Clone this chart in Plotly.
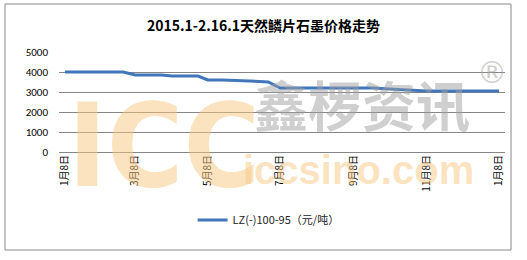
import plotly.graph_objects as go

dates = ["2015-01-08", "2015-01-22", "2015-02-05", "2015-02-26", "2015-03-08",
         "2015-03-30", "2015-04-08", "2015-04-30", "2015-05-08", "2015-05-20",
         "2015-06-12", "2015-06-28", "2015-07-08", "2015-08-08", "2015-09-08",
         "2015-09-25", "2015-10-08", "2015-11-08", "2015-12-08", "2016-01-08"]
prices = [4000, 4000, 4000, 4000, 3850,
          3850, 3800, 3800, 3600, 3600,
          3550, 3500, 3200, 3200, 3200,
          3200, 3150, 3050, 3050, 3050]
series_name = "LZ(-)100-95（元/吨）"
title_text = "2015.1-2.16.1天然鳞片石墨价格走势"
y_ticks = [0, 1000, 2000, 3000, 4000, 5000]

W, H = 527, 260
ml, mr, mt, mb = 59, 22, 52, 108

fig = go.Figure()
fig.add_trace(go.Scatter(x=dates, y=prices, mode="lines", name=series_name,
                         line=dict(color="#4177BA", width=3)))

font_main = "Calibri, Carlito, 'Noto Sans CJK SC', sans-serif"

def px2x(px):
    return (px - ml) / (W - ml - mr)

def py2y(py):
    return 1 - (py - mt) / (H - mt - mb)

orange = "rgba(247,200,130,0.5)"
grey = "rgba(160,160,160,0.5)"
annotations = [
    dict(text="<b>ICC</b>", x=px2x(164), y=py2y(145), xref="paper", yref="paper",
         showarrow=False, font=dict(size=116, color=orange,
                                    family="'Liberation Sans Narrow', 'DejaVu Sans Condensed', sans-serif"),
         xanchor="center", yanchor="middle"),
    dict(text="<b>鑫椤资讯</b>", x=px2x(362), y=py2y(103), xref="paper", yref="paper",
         showarrow=False, font=dict(size=54, color=grey,
                                    family="'Noto Sans CJK SC', sans-serif"), xanchor="center", yanchor="middle"),
    dict(text="®", x=px2x(492), y=py2y(72), xref="paper", yref="paper",
         showarrow=False, font=dict(size=30, color=grey,
                                    family="'DejaVu Sans', sans-serif"), xanchor="center", yanchor="middle"),
    dict(text="<b>iccsino.com</b>", x=px2x(358), y=py2y(170), xref="paper", yref="paper",
         showarrow=False, font=dict(size=40, color=orange,
                                    family="'Liberation Sans', sans-serif"), xanchor="center", yanchor="middle"),
]

fig.update_layout(
    width=W, height=H,
    margin=dict(l=ml, r=mr, t=mt, b=mb),
    paper_bgcolor="white", plot_bgcolor="white",
    title=dict(text="<b>" + title_text + "</b>", x=0.5, xanchor="center",
               y=1 - 26 / H, yanchor="middle", xref="container", yref="container",
               font=dict(size=14, color="black", family="'Noto Sans CJK SC', sans-serif")),
    font=dict(family=font_main, size=11, color="black"),
    showlegend=True,
    legend=dict(orientation="h", x=0.47, xanchor="center", y=-0.68, yanchor="middle",
                font=dict(size=11, color="#222", family="'Noto Sans CJK SC', sans-serif"),
                bgcolor="rgba(0,0,0,0)"),
    annotations=annotations,
    shapes=[dict(type="rect", xref="paper", yref="paper",
                 x0=-(ml - 5) / (W - ml - mr), x1=1 + (mr - 16) / (W - ml - mr),
                 y0=-(mb - 10) / (H - mt - mb), y1=1 + (mt - 4) / (H - mt - mb),
                 line=dict(color="#888888", width=1))],
)

fig.update_xaxes(type="date", range=["2015-01-03", "2016-01-13"],
                 tick0="2015-01-08", dtick="M2", tickformat="%-m月%-d日",
                 tickangle=-90, showgrid=False, showline=False, zeroline=False,
                 ticks="", tickfont=dict(size=10, family="'Noto Sans CJK SC', sans-serif"))
fig.update_yaxes(range=[0, 5000], tickvals=y_ticks, showgrid=True,
                 gridcolor="#868686", gridwidth=1, zeroline=True, zerolinecolor="#868686",
                 zerolinewidth=1, showline=False, ticks="", ticklabelstandoff=10,
                 tickfont=dict(size=11))

fig.write_html("out.html")
